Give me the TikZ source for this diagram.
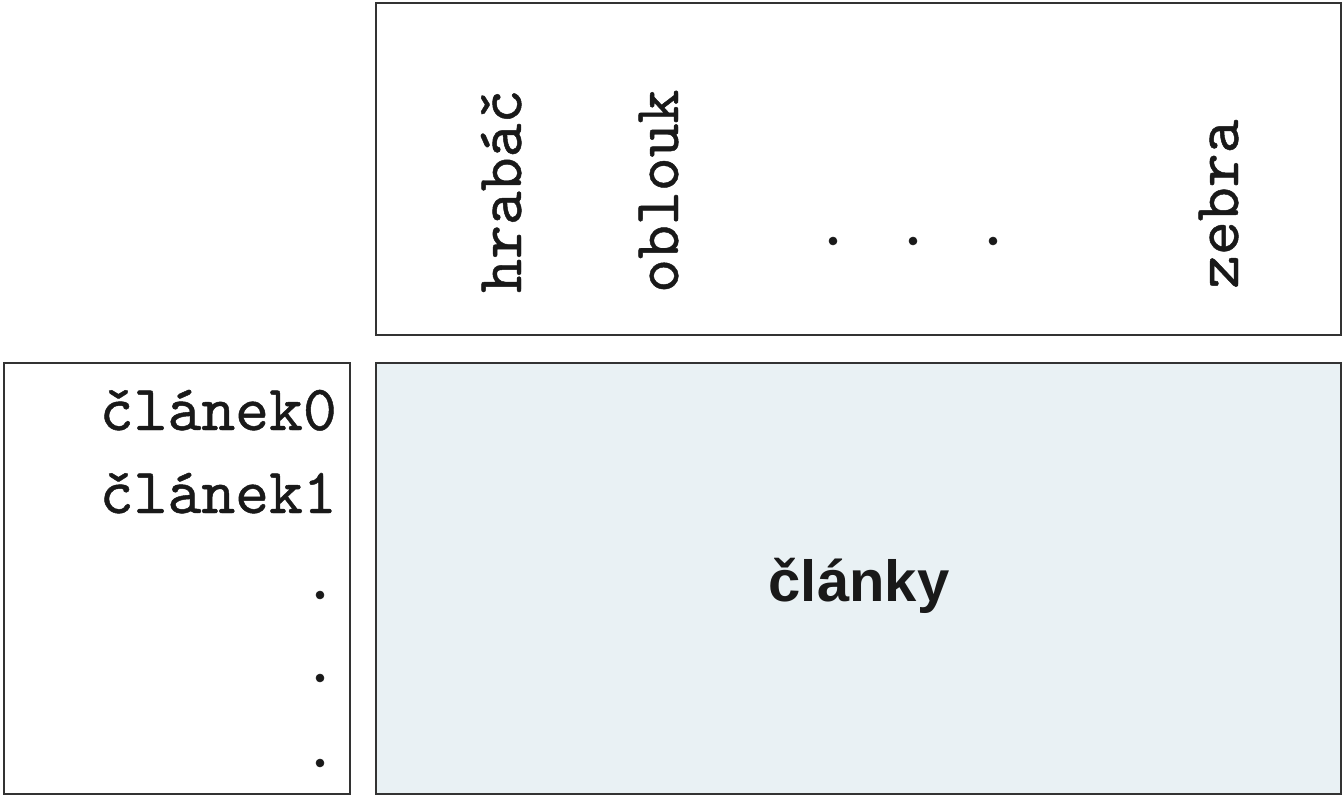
\documentclass[tikz,border=0pt]{standalone}
\usepackage{fontspec}
\setmainfont{Liberation Sans}
\newfontfamily\monof{lmmono10-regular.otf}[FakeBold=0.7]
\begin{document}
\begin{tikzpicture}[x=1pt,y=-1pt,
  panel/.style={draw=black!80,line width=2pt},
  mono/.style={font=\monof\fontsize{64.5}{68}\selectfont,inner sep=0pt,text=black!90},
  vlabel/.style={mono,rotate=90,anchor=base west},
  hlabel/.style={mono,anchor=base east},
  dotlbl/.style={mono,anchor=center},
  bigl/.style={font=\bfseries\fontsize{58}{62}\selectfont,inner sep=0pt,text=black!90}]
\useasboundingbox (0,0) rectangle (1344,796);
\fill[white] (0,0) rectangle (1344,796);
% panels
\draw[panel] (376,2.5) rectangle (1340.5,334.5);
\draw[panel] (3.5,362.5) rectangle (349.5,793.5);
\draw[panel,fill={rgb,255:red,233;green,241;blue,244}] (376,362.5) rectangle (1340.5,793.5);
% top labels
\node[vlabel] (hrabac) at (521,293) {hrabáč};
\node[vlabel] (oblouk) at (678,293) {oblouk};
\node[vlabel] (zebra) at (1238,289) {zebra};
\node[dotlbl] (td1) at (833,241) {.};
\node[dotlbl] (td2) at (913,241) {.};
\node[dotlbl] (td3) at (993,241) {.};
% left labels
\node[hlabel] (cl0) at (337,430) {článek0};
\node[hlabel] (cl1) at (337,513) {článek1};
\node[dotlbl] (ld1) at (320,595) {.};
\node[dotlbl] (ld2) at (320,678) {.};
\node[dotlbl] (ld3) at (320,763) {.};
% main label
\node[bigl,anchor=base] (clanky) at (859,601) {články};
\end{tikzpicture}
\end{document}
